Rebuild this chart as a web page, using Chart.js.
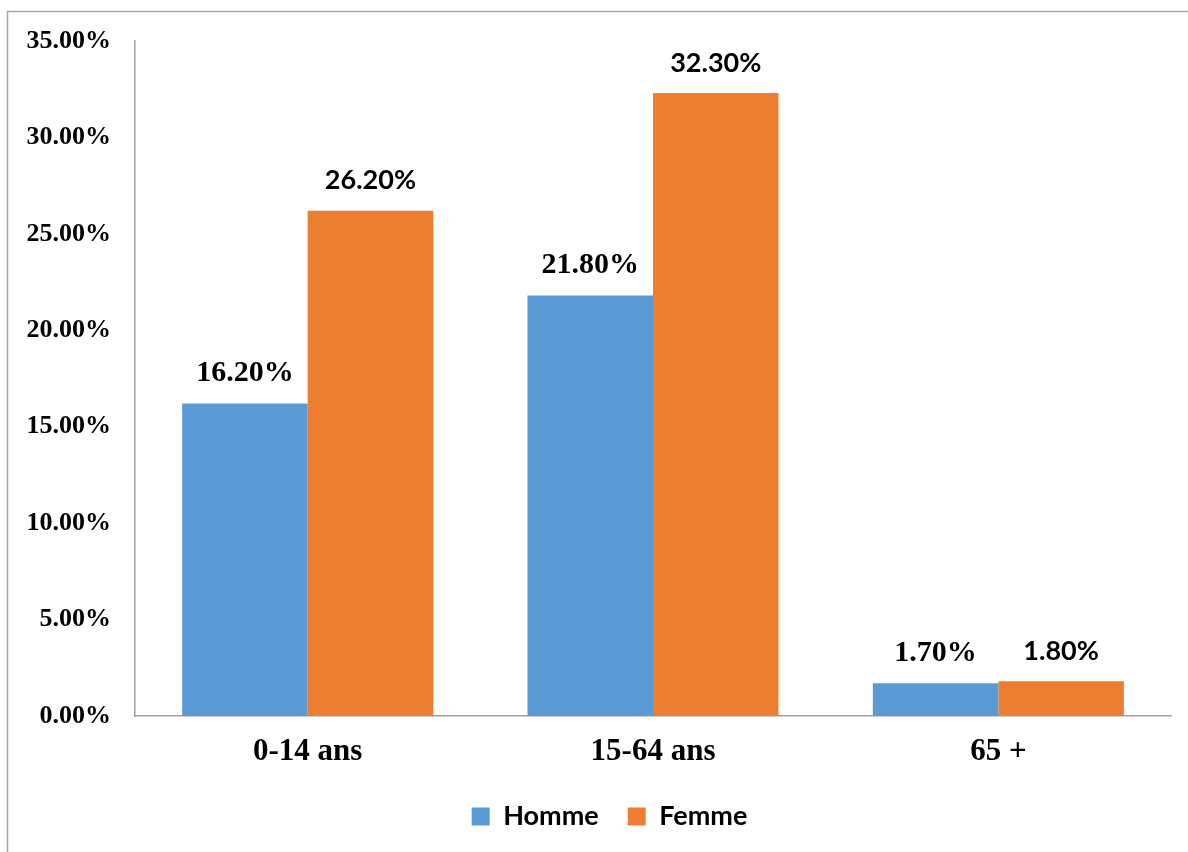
<!DOCTYPE html>
<html lang="fr">
<head>
<meta charset="utf-8">
<title>Répartition de la population par âge et sexe</title>
<script src="https://cdn.jsdelivr.net/npm/chart.js@4.4.1/dist/chart.umd.min.js"></script>
<style>
  html, body { margin: 0; padding: 0; background: #ffffff; }
  #wrap { position: relative; width: 1188px; height: 852px; }
</style>
</head>
<body>
<div id="wrap"><canvas id="chart" width="1188" height="852"></canvas></div>
<script>
// Tranches d'âge et parts (%) par sexe
const categories = ['0-14 ans', '15-64 ans', '65 +'];
const homme = [16.2, 21.8, 1.7];
const femme = [26.2, 32.3, 1.8];
const seriesNames = ['Homme', 'Femme'];
const yTicks = [0, 5, 10, 15, 20, 25, 30, 35];

const SERIF = '"Liberation Serif", "Times New Roman", serif';
const SANS = 'Lato, "Open Sans", "Liberation Sans", sans-serif';

// Thin grey frame around the chart (top and left edges visible)
const framePlugin = {
  id: 'frame',
  beforeDraw(chart) {
    const ctx = chart.ctx;
    ctx.save();
    ctx.strokeStyle = '#a6a6a6';
    ctx.lineWidth = 1.5;
    ctx.strokeRect(7.5, 11.5, chart.width + 20, chart.height + 20);
    ctx.restore();
  }
};

// Nudge the legend a little to the right of the canvas centre
const legendShift = {
  id: 'legendShift',
  afterLayout(chart) {
    if (chart.legend) {
      chart.legend.left += 24;
      chart.legend.right += 24;
    }
  }
};

// Value labels above each bar
const valueLabels = {
  id: 'valueLabels',
  afterDatasetsDraw(chart) {
    const ctx = chart.ctx;
    ctx.save();
    ctx.textAlign = 'center';
    ctx.textBaseline = 'middle';
    ctx.fillStyle = '#000000';
    chart.data.datasets.forEach((ds, di) => {
      const meta = chart.getDatasetMeta(di);
      ctx.font = ds.labelFont;
      meta.data.forEach((bar, i) => {
        ctx.fillText(ds.data[i].toFixed(2) + '%', bar.x, bar.y - 30);
      });
    });
    ctx.restore();
  }
};

new Chart(document.getElementById('chart'), {
  type: 'bar',
  data: {
    labels: categories,
    datasets: [
      {
        label: seriesNames[0],
        data: homme,
        backgroundColor: '#5b9bd5',
        borderWidth: 0,
        labelFont: 'bold 30px ' + SERIF
      },
      {
        label: seriesNames[1],
        data: femme,
        backgroundColor: '#ed7d31',
        borderWidth: 0,
        labelFont: 'bold 27px ' + SANS
      }
    ]
  },
  options: {
    responsive: false,
    animation: false,
    devicePixelRatio: 1,
    layout: { padding: { top: 41, right: 17, left: 0, bottom: 12 } },
    datasets: {
      bar: { categoryPercentage: 0.727, barPercentage: 1.0 }
    },
    plugins: {
      tooltip: { enabled: false },
      legend: {
        position: 'bottom',
        align: 'center',
        labels: {
          boxWidth: 18,
          boxHeight: 18,
          padding: 29,
          color: '#000000',
          font: { family: SANS, size: 27, weight: 'bold' }
        }
      }
    },
    scales: {
      x: {
        grid: { display: false, drawTicks: false },
        border: { display: true, color: '#a0a0a0', width: 1.5 },
        ticks: {
          color: '#000000',
          padding: 17,
          font: { family: SERIF, size: 31, weight: 'bold' }
        },
        afterFit(axis) { axis.height = 58; }
      },
      y: {
        min: 0,
        max: 35,
        afterBuildTicks(axis) { axis.ticks = yTicks.map(v => ({ value: v })); },
        grid: { display: false, drawTicks: false },
        border: { display: true, color: '#a0a0a0', width: 1.5 },
        ticks: {
          color: '#000000',
          padding: 24,
          font: { family: SERIF, size: 26, weight: 'bold' },
          callback: v => v.toFixed(2) + '%'
        },
        afterFit(axis) { axis.width = 135; }
      }
    }
  },
  plugins: [framePlugin, legendShift, valueLabels]
});
</script>
</body>
</html>
